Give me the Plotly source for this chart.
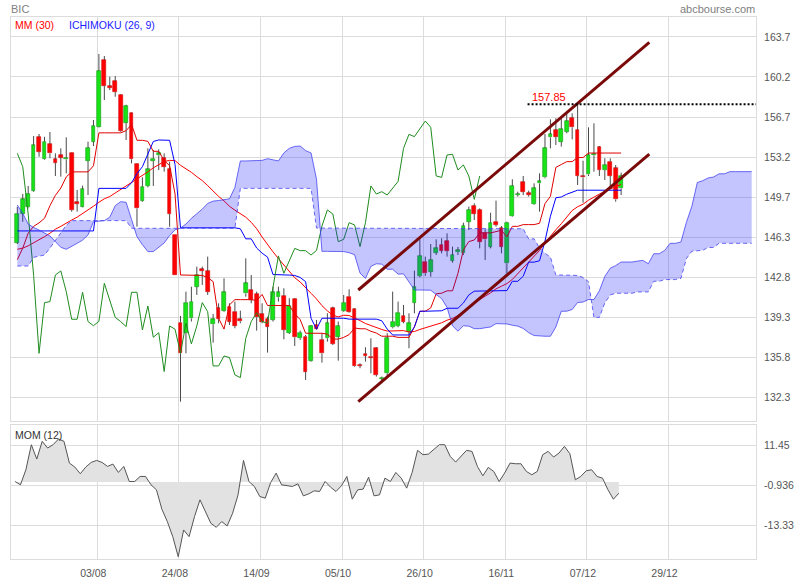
import plotly.graph_objects as go

# ---------------- data ----------------
tick_labels = ["03/08", "24/08", "14/09", "05/10", "26/10", "16/11", "07/12", "29/12"]
tick_index = [15, 30, 45, 60, 75, 90, 105, 120]   # trading-day index of each label

opens = [145.78, 148.28, 148.86, 150.31, 154.96, 153.04, 154.35, 153.04, 153.39, 153.04,
         153.56, 149.32, 148.92, 152.92, 154.58, 155.89, 161.7, 159.43, 159.84, 158.65,
         156.24, 157.05, 152.63, 149.44, 150.72, 152.92, 153.39, 153.13, 152.17, 146.45,
         138.81, 137.93, 139.18, 141.94, 143.45, 143.28, 138.66, 140.06, 139.85, 140.2,
         139.76, 139.1, 141.36, 141.65, 141.3, 139.56, 139.1, 139.04, 141.01, 141.13,
         137.93, 140.87, 137.44, 137.59, 135.49, 138.6, 137.3, 137.44, 140.06, 137.59,
         139.85, 141.07, 139.97, 135.09, 136.08, 135.84, 136.57, 133.93, 134.39, 138.4,
         138.52, 139.39, 138.02, 140.55, 142.87, 144.12, 143.25, 144.91, 145.57, 145.92,
         144.21, 144.95, 144.85, 147.61, 148.97, 148.63, 146.65, 145.43, 147.61, 147.03,
         143.98, 148.11, 149.93, 151.04, 150.08, 149.12, 150.95, 151.47, 154.96, 155.6,
         154.58, 155.45, 156.62, 155.6, 151.53, 151.73, 153.39, 154.09, 152.11, 152.84,
         152.26, 150.51]
highs = [148.9, 150.02, 150.72, 155.07, 155.25, 155.0, 155.42, 153.56, 154.0, 154.96,
         153.62, 150.37, 150.75, 154.58, 156.47, 162.22, 162.05, 160.25, 160.3, 158.7,
         157.8, 157.11, 152.69, 151.47, 154.0, 153.85, 153.91, 153.56, 152.84, 146.45,
         139.39, 141.51, 141.94, 143.69, 143.69, 144.56, 139.56, 140.49, 142.67, 140.49,
         140.64, 139.85, 144.41, 142.96, 141.51, 140.49, 139.33, 141.94, 141.94, 141.8,
         140.93, 140.93, 138.11, 137.73, 138.6, 139.04, 137.88, 139.62, 140.2, 138.9,
         141.22, 141.71, 140.06, 135.26, 136.66, 137.44, 136.66, 134.1, 137.88, 141.51,
         140.64, 140.35, 139.62, 143.34, 146.07, 144.56, 145.66, 146.07, 146.16, 146.59,
         145.43, 145.4, 147.52, 148.92, 149.21, 148.77, 146.94, 148.39, 149.44, 147.23,
         147.61, 151.3, 150.22, 151.59, 150.31, 150.95, 151.82, 155.25, 156.53, 156.62,
         156.7, 157.2, 157.05, 157.85, 152.92, 155.83, 156.18, 154.2, 153.13, 153.13,
         152.55, 151.88]
lows = [145.66, 147.6, 148.77, 150.22, 153.27, 152.98, 153.13, 151.59, 151.53, 151.82,
        148.48, 148.48, 148.86, 149.93, 154.2, 155.83, 158.21, 159.08, 158.5, 155.45,
        154.73, 152.69, 147.17, 149.35, 150.6, 150.72, 152.11, 151.97, 147.17, 142.93,
        131.92, 136.13, 138.9, 141.22, 142.09, 141.22, 137.06, 138.75, 139.76, 138.6,
        138.31, 138.75, 141.07, 140.49, 138.11, 138.75, 136.19, 138.9, 140.64, 137.35,
        137.82, 136.77, 137.3, 133.81, 135.41, 138.17, 135.32, 137.15, 136.86, 135.49,
        139.76, 139.68, 134.97, 134.83, 135.41, 134.39, 134.1, 133.52, 134.1, 138.31,
        138.4, 138.75, 136.57, 139.62, 142.76, 142.87, 142.81, 144.7, 144.85, 144.56,
        144.04, 144.7, 144.7, 146.88, 147.75, 145.28, 144.27, 145.28, 147.17, 144.85,
        143.11, 148.05, 149.79, 149.93, 149.79, 149.06, 148.48, 151.38, 154.0, 154.29,
        154.15, 155.31, 154.78, 150.8, 149.26, 151.59, 151.97, 151.59, 151.24, 150.66,
        149.35, 149.93]
closes = [148.28, 149.55, 150.02, 154.26, 153.71, 154.58, 153.56, 152.75, 153.2, 153.16,
          148.63, 149.15, 150.43, 154.03, 155.95, 160.74, 159.46, 159.29, 158.94, 155.54,
          157.69, 153.04, 148.77, 150.66, 152.17, 153.1, 153.56, 152.4, 148.28, 142.93,
          136.13, 140.55, 140.64, 142.96, 143.31, 141.51, 139.1, 139.1, 141.45, 138.9,
          138.54, 138.92, 142.23, 140.78, 139.27, 138.9, 138.46, 141.45, 141.45, 138.17,
          140.26, 137.53, 137.93, 134.54, 138.52, 138.23, 136.13, 138.75, 136.95, 138.52,
          140.55, 139.76, 135.03, 135.03, 135.9, 135.76, 134.25, 134.01, 137.44, 138.9,
          139.68, 138.9, 138.75, 141.88, 144.62, 143.11, 144.27, 145.28, 145.08, 145.08,
          144.7, 145.1, 147.23, 148.63, 148.28, 145.86, 146.07, 147.52, 147.32, 145.43,
          147.52, 150.72, 150.02, 150.22, 149.93, 150.51, 151.12, 154.0, 155.22, 155.02,
          155.66, 156.38, 155.83, 151.59, 151.47, 153.42, 153.48, 152.11, 152.55, 151.59,
          149.55, 151.59]

mm30 = [145.2, 145.3, 145.5, 145.75, 146.0, 146.3, 146.6, 146.95, 147.2, 147.5,
        147.75, 148.0, 148.3, 148.6, 148.95, 149.3, 149.6, 149.8, 150.1, 150.4,
        150.7, 151.0, 151.35, 151.65, 151.95, 152.3, 152.6, 152.85, 152.95, 152.93,
        152.52, 152.22, 151.91, 151.53, 151.19, 150.75, 150.27, 149.81, 149.42, 148.95,
        148.61, 148.27, 148.0, 147.55, 147.0, 146.27, 145.57, 144.98, 144.39, 143.81,
        143.23, 142.72, 142.35, 141.82, 141.36, 140.87, 140.29, 139.83, 139.45, 139.31,
        139.45, 139.43, 139.24, 138.98, 138.73, 138.54, 138.38, 138.21, 138.07, 138.07,
        138.11, 138.11, 137.99, 138.03, 138.21, 138.35, 138.54, 138.67, 138.79, 139.02,
        139.17, 139.42, 139.73, 140.2, 140.52, 140.78, 141.11, 141.4, 141.75, 141.98,
        142.21, 142.57, 143.07, 143.58, 144.05, 144.54, 145.1, 145.77, 146.36, 146.9,
        147.43, 148.01, 148.58, 148.91, 149.13, 149.48, 149.78, 150.01, 150.26, 150.48,
        150.64, 150.86]

tenkan = [144.3, 145.3, 146.6, 147.2, 147.5, 147.9, 149.0, 149.9, 150.54, 151.51,
          151.95, 151.95, 151.95, 151.95, 152.48, 155.35, 155.35, 155.35, 155.35, 155.35,
          155.54, 156.08, 154.7, 154.7, 154.61, 153.74, 153.74, 152.94, 152.49, 150.02,
          142.96, 142.96, 142.96, 142.92, 142.92, 142.74, 142.38, 139.19, 138.24, 140.35,
          140.81, 140.81, 140.81, 140.81, 140.74, 141.26, 140.3, 140.3, 140.3, 140.3,
          140.3, 139.58, 139.07, 137.88, 137.88, 137.88, 137.88, 137.8, 137.37, 137.37,
          137.52, 137.76, 138.34, 138.27, 138.27, 138.05, 137.9, 137.62, 137.62, 137.62,
          137.52, 137.52, 137.52, 138.43, 139.8, 139.8, 140.09, 141.32, 141.37, 141.58,
          141.58, 143.1, 145.14, 145.87, 146.01, 146.63, 146.63, 146.63, 146.74, 146.86,
          146.28, 147.2, 147.2, 147.35, 147.35, 147.35, 147.47, 149.18, 149.82, 152.34,
          152.59, 152.84, 152.84, 153.2, 153.2, 153.59, 153.59, 153.59, 153.59, 153.59,
          153.59, 153.59]

kijun = [146.8, 146.8, 146.8, 146.8, 146.8, 146.8, 146.8, 146.8, 146.8, 146.8,
         146.8, 146.8, 146.8, 146.8, 146.8, 150.51, 150.51, 150.51, 150.51, 150.51,
         150.51, 151.0, 151.8, 152.4, 153.5, 154.6, 154.73, 154.73, 154.7, 152.58,
         147.07, 147.07, 147.07, 147.07, 147.07, 147.07, 147.07, 147.07, 147.07, 147.07,
         147.07, 146.99, 146.11, 146.11, 145.31, 144.86, 144.52, 143.0, 143.0, 143.0,
         142.95, 142.92, 142.74, 142.38, 139.19, 138.24, 139.19, 139.19, 139.19, 139.19,
         139.19, 139.11, 139.11, 139.11, 139.11, 139.11, 139.11, 138.97, 138.24, 137.73,
         137.73, 137.73, 137.73, 138.43, 139.8, 139.8, 139.8, 139.8, 139.84, 140.06,
         140.06, 140.06, 140.52, 141.22, 141.55, 141.55, 141.55, 141.55, 141.6, 141.6,
         141.6, 142.41, 142.41, 142.85, 144.08, 144.08, 144.2, 145.91, 148.08, 149.69,
         149.76, 150.0, 150.16, 150.35, 150.35, 150.35, 150.35, 150.35, 150.35, 150.35,
         150.35, 150.35]

# cloud (already projected 26 sessions forward; index 0 = first session shown)
span_a = [149.06, 148.33, 147.4, 147.1, 146.88, 146.65, 146.36, 145.87, 145.37, 145.2,
          145.43, 145.72, 146.0, 146.45, 147.6, 147.65, 147.7, 148.0, 149.0, 149.35,
          149.3, 147.8, 146.3, 145.6, 145.0, 145.0, 145.4, 145.75, 146.4, 146.9,
          147.05, 147.4, 147.9, 148.3, 148.7, 149.2, 149.4, 149.45, 149.5, 149.6,
          150.59, 152.9, 152.9, 152.9, 152.9, 152.95, 153.1, 153.0, 152.9, 153.6,
          154.0, 154.17, 154.2, 153.8, 153.6, 151.3, 145.02, 145.02, 145.02, 145.0,
          145.0, 144.9, 144.73, 143.13, 142.66, 143.71, 143.94, 143.9, 143.46, 143.46,
          143.03, 143.06, 142.41, 141.65, 141.65, 141.65, 141.63, 141.25, 140.9, 140.13,
          138.53, 138.06, 138.53, 138.5, 138.28, 138.28, 138.36, 138.43, 138.72, 138.69,
          138.69, 138.58, 138.5, 138.3, 137.93, 137.68, 137.62, 137.62, 137.62, 138.43,
          139.8, 139.8, 139.95, 140.56, 140.6, 140.82, 140.82, 141.58, 142.83, 143.55,
          143.78, 144.09, 144.09, 144.09, 144.17, 144.23, 143.94, 144.81, 144.81, 145.1,
          145.72, 145.72, 145.84, 147.55, 148.95, 151.02, 151.18, 151.42, 151.5, 151.78,
          151.78, 151.97, 151.97, 151.97, 151.97, 151.97]
span_b = [143.74, 143.74, 143.74, 144.5, 144.6, 144.7, 145.3, 146.0, 146.6, 147.3,
          147.7, 147.7, 147.7, 147.7, 147.7, 147.7, 147.7, 147.7, 147.7, 147.7,
          147.7, 147.03, 147.03, 147.03, 147.03, 147.03, 147.03, 147.03, 147.03, 147.03,
          147.03, 147.03, 147.03, 147.03, 147.03, 147.03, 147.03, 147.03, 147.03, 147.03,
          147.03, 150.51, 150.51, 150.51, 150.51, 150.51, 150.51, 150.51, 150.51, 150.51,
          150.51, 150.51, 150.51, 150.51, 150.51, 147.05, 147.05, 147.05, 147.05, 147.05,
          147.05, 147.05, 147.05, 147.05, 147.05, 147.05, 147.05, 147.05, 147.05, 147.05,
          147.05, 147.05, 147.05, 147.05, 147.05, 147.05, 147.05, 147.05, 147.05, 147.05,
          147.05, 147.05, 147.05, 147.05, 147.05, 147.05, 147.05, 147.05, 147.05, 147.05,
          147.05, 147.05, 147.05, 146.99, 146.11, 146.11, 145.31, 144.86, 144.52, 142.96,
          142.96, 142.96, 142.92, 142.92, 142.74, 142.38, 139.26, 139.26, 140.52, 141.22,
          141.37, 141.37, 141.37, 141.37, 141.48, 141.48, 141.48, 142.41, 142.41, 142.56,
          142.56, 142.56, 142.67, 144.39, 145.03, 145.07, 145.11, 145.36, 145.36, 145.72,
          145.72, 145.72, 145.72, 145.72, 145.72, 145.72]

mom12 = [0.19, -0.84, 3.8, 11.54, 7.11, 12.58, 10.51, 11.54, 13.3, 12.58,
         5.87, 4.63, 2.57, 4.63, 6.07, 6.69, 6.07, 4.84, 5.56, 2.98,
         4.84, 0.19, 0.19, 1.74, 1.74, -0.84, -2.39, -8.37, -12.19, -16.84,
         -23.03, -14.77, -16.84, -10.64, -5.48, -9.1, -12.71, -13.95, -12.19, -13.53,
         -9.61, -3.94, 6.69, 0.19, -1.36, -4.45, -4.97, -0.12, 2.77, -0.84,
         -1.15, -1.36, -0.53, -4.25, -3.63, -2.7, -2.9, 0.19, -1.56, -2.9,
         -1.15, 1.74, -5.28, -2.39, -2.18, 1.53, -4.25, -3.94, 1.22, 0.19,
         2.98, 1.22, -1.87, 2.98, 9.79, 8.45, 8.65, 10.0, 11.54, 11.54,
         7.93, 6.18, 7.93, 9.79, 9.48, 4.84, 1.95, 4.53, 3.29, 0.19,
         2.77, 5.87, 5.66, 5.66, 3.29, 2.26, 3.29, 8.45, 9.48, 7.73,
         8.96, 11.03, 8.76, 0.71, 1.74, 3.5, 3.8, 1.74, 1.22, -2.39,
         -5.28, -3.42]

chikou_shift = 26
channel_x = [62.68, 116.18]
channel_upper = [141.65, 163.24]
channel_lower = [131.92, 153.5]
resistance_start = 93.8
resistance_level = 157.85

price_ticks = [132.30, 135.79, 139.28, 142.77, 146.26, 149.75, 153.24, 156.73, 160.22, 163.71]
price_tick_text = ["132.3", "135.8", "139.3", "142.8", "146.3", "149.7", "153.2", "156.7", "160.2", "163.7"]
mom_ticks = [11.45, -0.936, -13.33]
mom_tick_text = ["11.45", "-0.936", "-13.33"]

# ---------------- layout geometry ----------------
W, H = 800, 580
ML, MR, MT, MB = 11, 44, 17, 21
PW, PH = W - ML - MR, H - MT - MB


def pxx(x):
    return (x - ML) / PW


def pxy(y):
    return (H - MB - y) / PH


x0 = -1.158
x_range = [x0, x0 + PW / 5.44]
mom_off = 0.42
grid_pos = [t - 0.3 for t in tick_index]

n = len(closes)
idx = list(range(n))
cloud_x = list(range(len(span_a)))

fig = go.Figure()

# candle wicks (above and below the body)
wx, wy = [], []
for i, (o, h, l, c) in enumerate(zip(opens, highs, lows, closes)):
    top, bot = max(o, c), min(o, c)
    wx += [i, i, None, i, i, None]
    wy += [h, top, None, bot, l, None]
fig.add_trace(go.Scatter(x=wx, y=wy, mode="lines", line=dict(color="#4a4a4a", width=1),
                         hoverinfo="skip", xaxis="x", yaxis="y"))

# candle bodies
base = [min(o, c) for o, c in zip(opens, closes)]
height = [max(abs(c - o), 0.09) for o, c in zip(opens, closes)]
fill = ["#17e317" if c >= o else "#ff0000" for o, c in zip(opens, closes)]
edge = ["#0b9b0b" if c >= o else "#d40000" for o, c in zip(opens, closes)]
fig.add_trace(go.Bar(x=idx, y=height, base=base, width=0.68,
                     marker=dict(color=fill, line=dict(color=edge, width=0.6)),
                     xaxis="x", yaxis="y", hoverinfo="skip"))

# indicator lines
fig.add_trace(go.Scatter(x=idx, y=mm30, mode="lines", line=dict(color="#ff0000", width=1),
                         xaxis="x", yaxis="y"))
fig.add_trace(go.Scatter(x=idx, y=tenkan, mode="lines", line=dict(color="#e00000", width=1),
                         xaxis="x", yaxis="y"))
fig.add_trace(go.Scatter(x=idx, y=kijun, mode="lines", line=dict(color="#0000ff", width=1),
                         xaxis="x", yaxis="y"))
fig.add_trace(go.Scatter(x=[i - chikou_shift for i in idx[chikou_shift:]], y=closes[chikou_shift:],
                         mode="lines", line=dict(color="#1e8c1e", width=1), xaxis="x", yaxis="y"))

# cloud
fig.add_trace(go.Scatter(x=cloud_x, y=span_b, mode="lines",
                         line=dict(color="rgba(60,60,240,0.75)", width=1, dash="4px,3px"),
                         xaxis="x", yaxis="y"))
fig.add_trace(go.Scatter(x=cloud_x, y=span_a, mode="lines", fill="tonexty",
                         fillcolor="rgba(20,20,255,0.25)",
                         line=dict(color="rgba(60,60,240,0.75)", width=1),
                         xaxis="x", yaxis="y"))

# trend channel
fig.add_trace(go.Scatter(x=channel_x, y=channel_upper, mode="lines",
                         line=dict(color="#7a0a0a", width=3), xaxis="x", yaxis="y"))
fig.add_trace(go.Scatter(x=channel_x, y=channel_lower, mode="lines",
                         line=dict(color="#7a0a0a", width=3), xaxis="x", yaxis="y"))

# resistance
fig.add_trace(go.Scatter(x=[resistance_start, x_range[1]], y=[resistance_level, resistance_level],
                         mode="lines", line=dict(color="#000000", width=2, dash="2px,2px"),
                         xaxis="x", yaxis="y"))

# momentum panel
fig.add_trace(go.Scatter(x=idx, y=mom12, mode="lines", fill="tozeroy", fillcolor="#e2e2e2",
                         line=dict(color="#555555", width=1), xaxis="x2", yaxis="y2"))

grid = "#dcdcdc"
tickfont = dict(family="Liberation Sans, Arial, sans-serif", size=10.5, color="#555555")
common = dict(showgrid=True, gridcolor=grid, gridwidth=1, zeroline=False, showline=True,
              mirror=True, linecolor=grid, linewidth=1, ticks="", automargin=False)

fig.update_layout(
    width=W, height=H, autosize=False,
    margin=dict(l=ML, r=MR, t=MT, b=MB, pad=0, autoexpand=False),
    paper_bgcolor="white", plot_bgcolor="white",
    showlegend=False, bargap=0,
    font=dict(family="Liberation Sans, Arial, sans-serif"),
    xaxis=dict(domain=[0, 1], range=x_range, anchor="y", tickvals=grid_pos,
               showticklabels=False, **common),
    yaxis=dict(domain=[pxy(421), 1], range=[130.23, 165.45], anchor="x", side="right",
               tickvals=price_ticks, ticktext=price_tick_text, tickfont=tickfont,
               ticklabelstandoff=5, **common),
    xaxis2=dict(domain=[0, 1], range=[x_range[0] + mom_off, x_range[1] + mom_off], anchor="y2",
                tickvals=[g + mom_off for g in grid_pos], ticktext=tick_labels,
                tickfont=tickfont, ticklabelstandoff=4, ticklabelshift=-4, **common),
    yaxis2=dict(domain=[0, pxy(425.3)], range=[-23.74, 17.53], anchor="x2", side="right",
                tickvals=mom_ticks, ticktext=mom_tick_text, tickfont=tickfont,
                ticklabelstandoff=5, **common),
)

ann_font = "Liberation Sans, Arial, sans-serif"
annotations = [
    dict(text="BIC", x=pxx(10), y=pxy(9), xanchor="left", yanchor="middle",
         font=dict(family=ann_font, size=11, color="#808080")),
    dict(text="abcbourse.com", x=pxx(756), y=pxy(9), xanchor="right", yanchor="middle",
         font=dict(family=ann_font, size=11, color="#808080")),
    dict(text="MM (30)", x=pxx(14), y=pxy(25.3), xanchor="left", yanchor="middle",
         font=dict(family=ann_font, size=10.5, color="#ff0000")),
    dict(text="ICHIMOKU (26, 9)", x=pxx(68), y=pxy(25.3), xanchor="left", yanchor="middle",
         font=dict(family=ann_font, size=10.5, color="#1c1cff")),
    dict(text="MOM (12)", x=pxx(14), y=pxy(434.7), xanchor="left", yanchor="middle",
         font=dict(family=ann_font, size=10.5, color="#333333")),
]
for a in annotations:
    a.update(xref="paper", yref="paper", showarrow=False, borderpad=0)
fig.update_layout(annotations=annotations)
fig.add_annotation(text=f"{resistance_level:.2f}", x=resistance_start, y=resistance_level,
                   xref="x", yref="y", xanchor="left", yanchor="bottom", xshift=3, yshift=0,
                   showarrow=False, borderpad=0,
                   font=dict(family=ann_font, size=11, color="#ff0000"))

fig.write_html("out.html", config={"displayModeBar": False},
               post_script="document.body.style.margin='0px';")
